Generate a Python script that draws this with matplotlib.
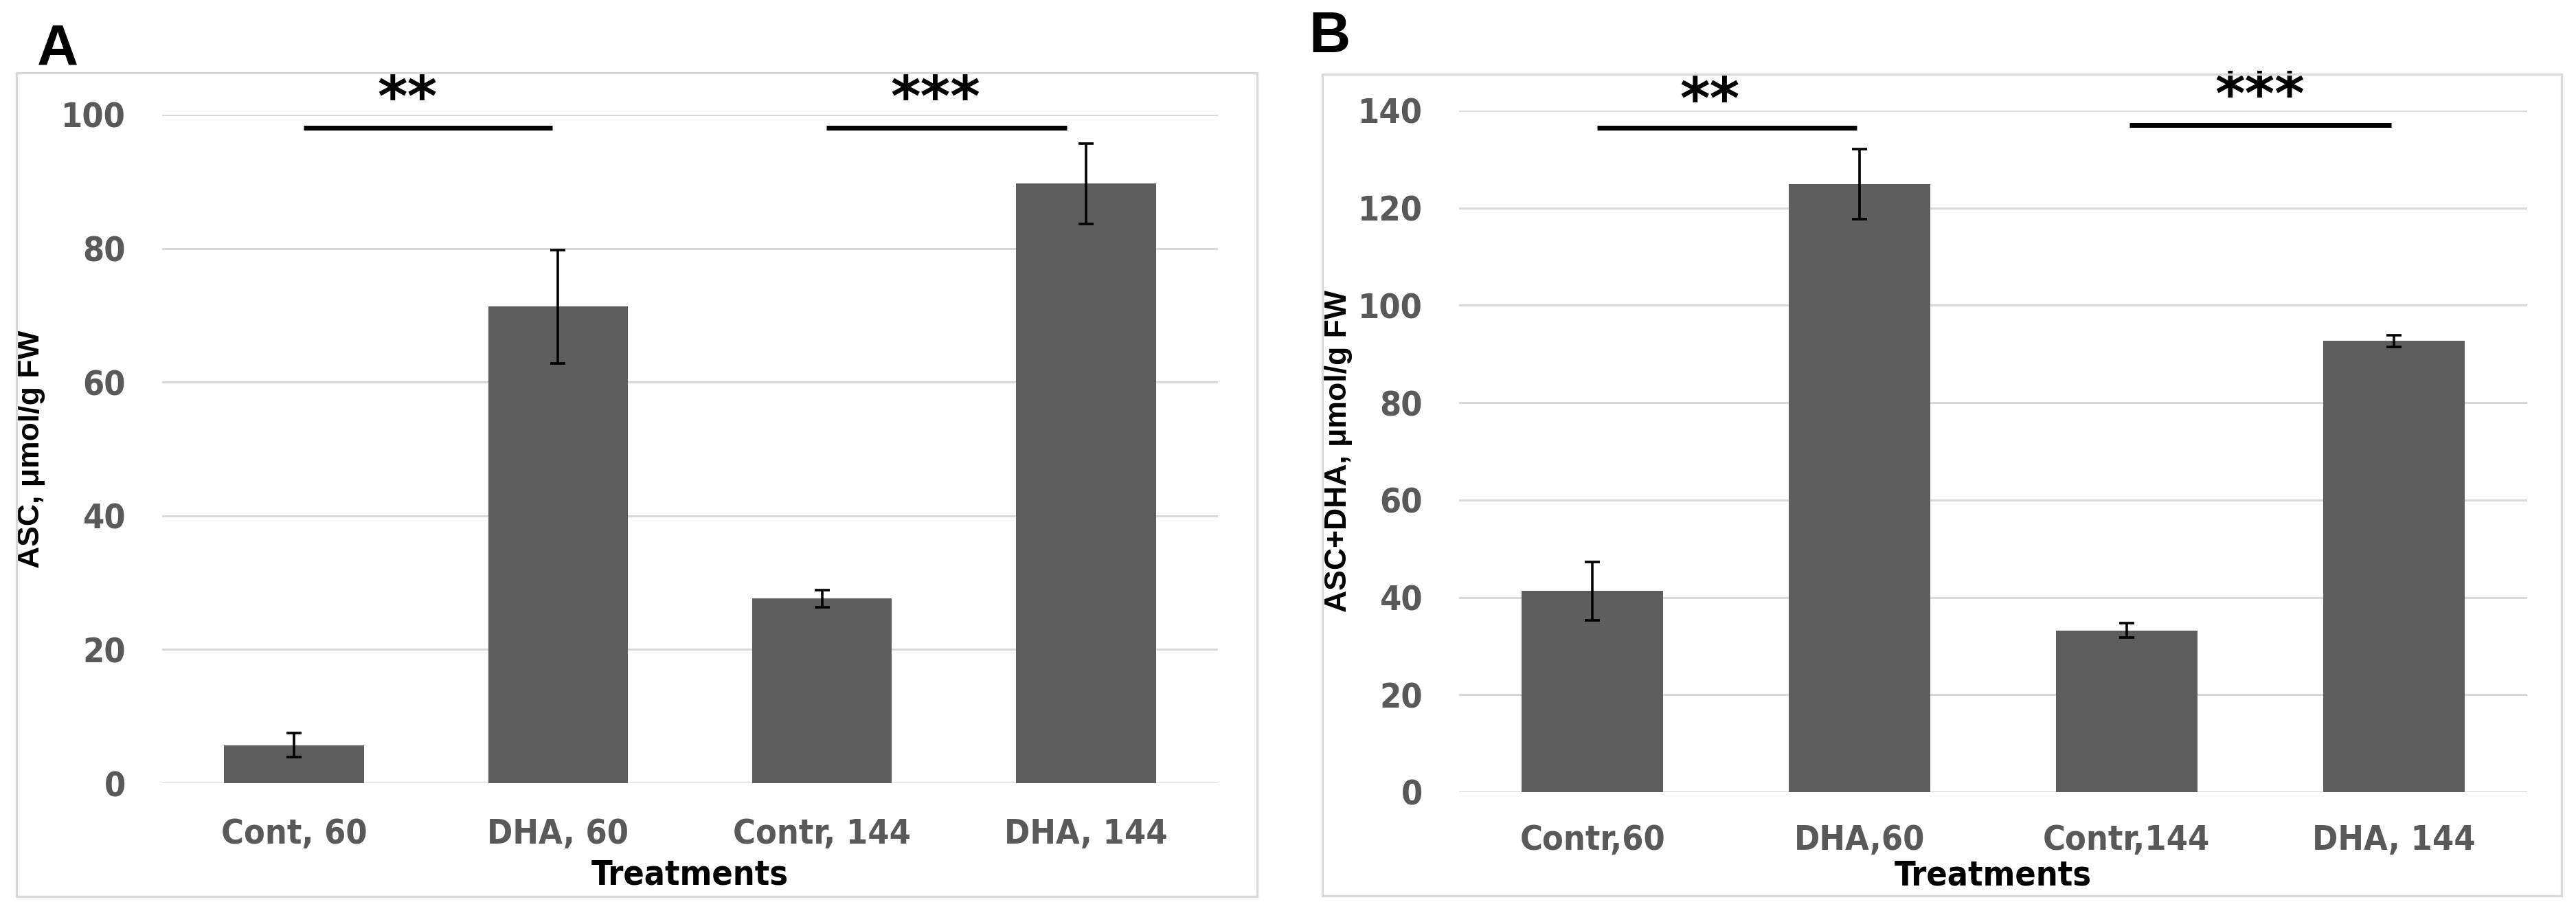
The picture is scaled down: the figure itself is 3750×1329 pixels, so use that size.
import matplotlib
matplotlib.use("Agg")
import matplotlib.pyplot as plt
from matplotlib.patches import Rectangle
from matplotlib import font_manager as fm

# ---------------- data ----------------
cats_a = ["Cont, 60", "DHA, 60", "Contr, 144", "DHA, 144"]
vals_a = [5.7, 71.3, 27.6, 89.7]
err_a = [1.8, 8.5, 1.3, 6.0]

cats_b = ["Contr,60", "DHA,60", "Contr,144", "DHA, 144"]
vals_b = [41.3, 124.9, 33.2, 92.7]
err_b = [6.0, 7.2, 1.5, 1.2]

yticks_a = [0, 20, 40, 60, 80, 100]
yticks_b = [0, 20, 40, 60, 80, 100, 120, 140]

ylabel_a = "ASC, \u03bcmol/g FW"
ylabel_b = "ASC+DHA, \u03bcmol/g FW"
xlabel = "Treatments"

sig_labels = ["**", "***"]

# ---------------- style ----------------
BAR = "#5e5e5e"
GRID = "#d9d9d9"
TICK = "#595959"
arial = ["Liberation Sans", "DejaVu Sans"]

names = {f.name for f in fm.fontManager.ttflist}
cond = [f for f in fm.fontManager.ttflist if ("Condensed" in f.fname or "Narrow" in f.fname) and f.weight in (600, 700, "bold")]
if cond:
    NARROW = fm.FontProperties(fname=cond[0].fname)
else:
    NARROW = fm.FontProperties(family="DejaVu Sans", weight="bold", stretch="condensed")

fig = plt.figure(figsize=(37.5, 13.29), dpi=100)

def narrow_props(size):
    p = NARROW.copy()
    p.set_size(size)
    p.set_weight("bold")
    return p

def panel(rect, cats, vals, errs, yticks, ylabel, ylab_x, xlab_y, tickpad_x,
          sig_spans, sig_y, star_pos, frame, letter, letter_pos):
    ax = fig.add_axes(rect)
    x = list(range(len(cats)))
    ax.bar(x, vals, width=0.53, color=BAR, zorder=3)
    ax.errorbar(x, vals, yerr=errs, fmt="none", ecolor="black", elinewidth=2.6,
                capsize=8, capthick=2.6, zorder=4)
    ax.set_xlim(-0.5, len(cats) - 0.5)
    ax.set_ylim(0, yticks[-1])
    ax.set_yticks(yticks)
    ax.set_xticks(x)
    ax.set_xticklabels(cats)
    for s in ax.spines.values():
        s.set_visible(False)
    ax.yaxis.grid(True, color=GRID, linewidth=2.2, zorder=0)
    ax.set_axisbelow(True)
    ax.tick_params(axis="both", length=0)
    ax.tick_params(axis="y", pad=38)
    ax.tick_params(axis="x", pad=tickpad_x)
    for lab in ax.get_yticklabels() + ax.get_xticklabels():
        lab.set_fontproperties(narrow_props(36))
        lab.set_color(TICK)
    ax.set_ylabel(ylabel, family=arial, weight="bold", fontsize=32, color="black")
    ax.yaxis.set_label_coords(ylab_x, 0.5)
    ax.set_xlabel(xlabel, fontproperties=narrow_props(36), color="black")
    ax.xaxis.set_label_coords(0.5, xlab_y)
    # significance bars + stars
    for (x0, x1), yy, (sx, sy), lab in zip(sig_spans, sig_y, star_pos, sig_labels):
        ax.plot([x0, x1], [yy, yy], color="black", linewidth=5, solid_capstyle="butt",
                clip_on=False, zorder=5)
        ax.text(sx, sy, lab, ha="center", va="baseline", fontsize=60,
                family=["DejaVu Sans"], weight="bold", clip_on=False, zorder=6)
    # frame
    fig.patches.append(Rectangle((frame[0], frame[1]), frame[2], frame[3],
                                 transform=fig.transFigure, fill=False,
                                 edgecolor=GRID, linewidth=2.4))
    fig.text(letter_pos[0], letter_pos[1], letter, family=arial, weight="bold",
             fontsize=60, va="baseline", ha="left")
    return ax

W, H = 3750.0, 1329.0

panel([236 / W, 1 - 1140 / H, (1773 - 236) / W, (1140 - 167) / H],
      cats_a, vals_a, err_a, yticks_a, ylabel_a, -0.1106, -0.113, 36,
      [(0.036, 0.979), (2.016, 2.927)], [98.05, 98.05],
      [(0.43, 99.8), (2.43, 99.8)],
      (24 / W, 1 - 1305 / H, (1830 - 24) / W, (1305 - 106) / H),
      "A", (54 / W, 1 - 95 / H))

panel([2124 / W, 1 - 1153 / H, (3679 - 2124) / W, (1153 - 161) / H],
      cats_b, vals_b, err_b, yticks_b, ylabel_b, -0.0997, -0.098, 33,
      [(0.018, 0.99), (2.01, 2.99)], [136.5, 137.0],
      [(0.44, 138.5), (2.50, 139.5)],
      (1925 / W, 1 - 1304 / H, (3729 - 1925) / W, (1304 - 108) / H),
      "B", (1905 / W, 1 - 76 / H))

fig.savefig("out.png", dpi=100, facecolor="white")
